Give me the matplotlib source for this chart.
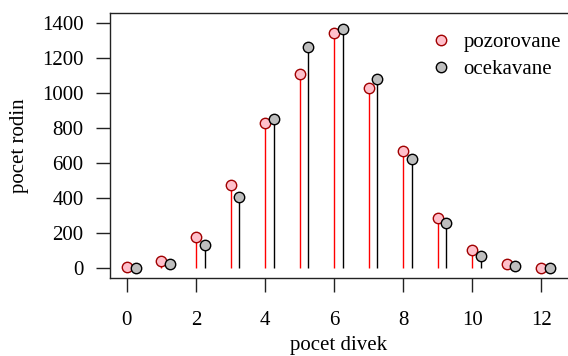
import numpy as np
import matplotlib
matplotlib.use('Agg')
import matplotlib.pyplot as plt
from matplotlib.lines import Line2D

plt.rcParams['font.family'] = ['Liberation Serif', 'DejaVu Serif']
plt.rcParams['font.size'] = 15

# pocet divek v rodine s 12 detmi
divky = np.arange(0, 13)
pozorovane = [7, 45, 181, 478, 829, 1112, 1343, 1033, 670, 286, 104, 24, 3]
ocekavane = [2, 26, 133, 410, 854, 1265, 1367, 1085, 628, 258, 72, 12, 1]
x_ticks = [0, 2, 4, 6, 8, 10, 12]
y_ticks = [0, 200, 400, 600, 800, 1000, 1200, 1400]

fig = plt.figure(figsize=(5.68, 3.56), dpi=100)
ax = fig.add_axes([110/568, 78/356, 457.5/568, 265/356])

x2 = divky + 0.25
ax.vlines(divky, 0, pozorovane, color='red', lw=1)
ax.vlines(x2, 0, ocekavane, color='black', lw=1)
ax.plot(divky, pozorovane, 'o', ms=7.5, mfc='pink', mec='#a00000', mew=1)
ax.plot(x2, ocekavane, 'o', ms=7.5, mfc='#bebebe', mec='black', mew=1)

ax.set_xlim(-0.49, 12.76)
ax.set_ylim(-54.8, 1460)
ax.set_xticks(x_ticks)
ax.set_yticks(y_ticks)
ax.tick_params(length=10, width=1, color='#222222')
ax.tick_params(axis='x', pad=14)
ax.tick_params(axis='y', pad=9)
ax.spines['right'].set_visible(False)
for s in ['left', 'bottom', 'top']:
    ax.spines[s].set_linewidth(1)
    ax.spines[s].set_color('#222222')

ax.set_xlabel('pocet divek', labelpad=4)
ax.set_ylabel('pocet rodin', labelpad=9)

handles = [
    Line2D([], [], ls='none', marker='o', ms=7.5, mfc='pink', mec='#a00000', mew=1),
    Line2D([], [], ls='none', marker='o', ms=7.5, mfc='#bebebe', mec='black', mew=1),
]
ax.legend(handles, ['pozorovane', 'ocekavane'], frameon=False, loc='upper left',
          bbox_to_anchor=(0.70, 0.925), handlelength=1.0, handletextpad=0.6,
          labelspacing=0.35, borderpad=0, borderaxespad=0)

fig.savefig('out.png', dpi=100)
